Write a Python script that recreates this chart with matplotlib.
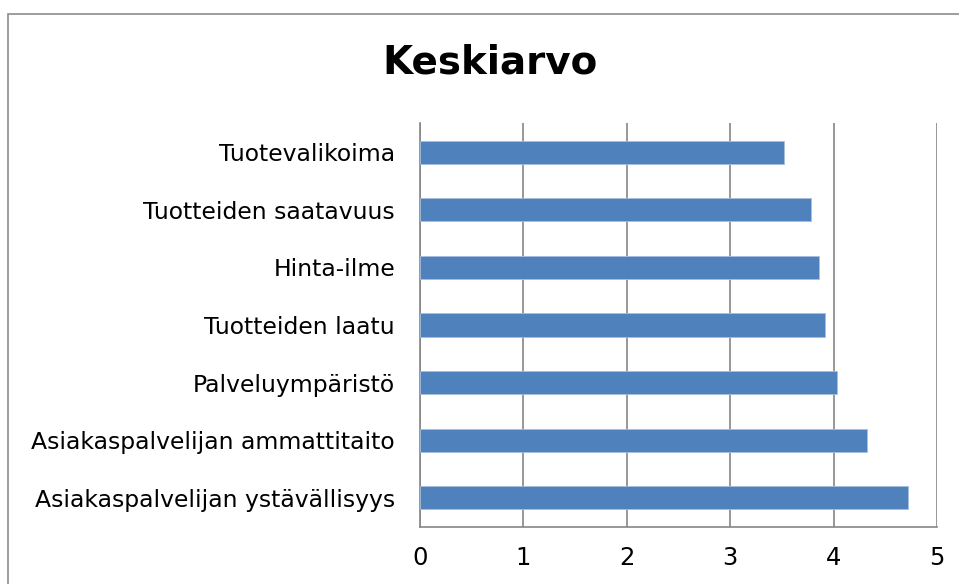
import matplotlib.pyplot as plt
from matplotlib.patches import Rectangle

# Data
categories = [
    'Asiakaspalvelijan ystävällisyys',
    'Asiakaspalvelijan ammattitaito',
    'Palveluympäristö',
    'Tuotteiden laatu',
    'Hinta-ilme',
    'Tuotteiden saatavuus',
    'Tuotevalikoima',
]
values = [4.72, 4.32, 4.03, 3.92, 3.86, 3.78, 3.52]
x_ticks = [0, 1, 2, 3, 4, 5]

bar_color = '#4F81BD'
grid_color = '#868686'

fig = plt.figure(figsize=(9.59, 5.84), dpi=100)
ax = fig.add_axes([0.438, 0.098, 0.539, 0.691])

# Outer chart border (cropped at right and bottom in the reference)
fig.patches.append(Rectangle((8 / 959, -0.1), 1.2, 1 - 14 / 584 + 0.1,
                             transform=fig.transFigure, fill=False,
                             edgecolor='#8C8C8C', linewidth=1.2))

ax.barh(range(len(categories)), values, height=0.4, color=bar_color,
        edgecolor='#A7BFDE', linewidth=0.6, zorder=3)

ax.set_xlim(0, 5)
ax.set_ylim(-0.5, len(categories) - 0.5)
ax.set_xticks(x_ticks)
ax.set_xticklabels([str(t) for t in x_ticks], fontsize=17.5, family='DejaVu Sans')
ax.set_yticks(range(len(categories)))
ax.set_yticklabels(categories, fontsize=16.9, family='DejaVu Sans')
ax.tick_params(axis='both', length=0)
ax.tick_params(axis='x', pad=14)
ax.tick_params(axis='y', pad=18)

ax.xaxis.grid(True, color=grid_color, linewidth=1.2, zorder=0)
for side in ['top', 'right']:
    ax.spines[side].set_visible(False)
for side in ['left', 'bottom']:
    ax.spines[side].set_color(grid_color)
    ax.spines[side].set_linewidth(1.2)

fig.text(0.511, 0.893, 'Keskiarvo', ha='center', va='center',
         fontsize=28, fontweight='bold', family='DejaVu Sans')

fig.savefig('out.png', dpi=100)
